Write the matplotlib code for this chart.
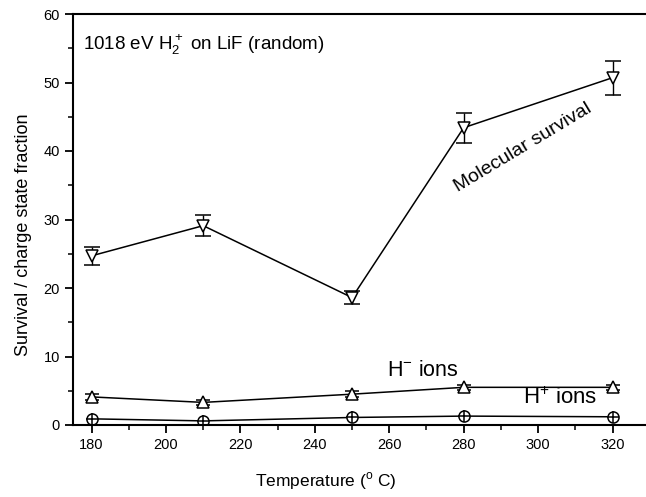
import matplotlib

matplotlib.use("Agg")
import matplotlib.pyplot as plt
from matplotlib.ticker import MultipleLocator

plt.rcParams["font.family"] = ["Liberation Sans", "DejaVu Sans"]
plt.rcParams["mathtext.fontset"] = "custom"
plt.rcParams["mathtext.rm"] = "Liberation Sans"

# data
temperature = [180, 210, 250, 280, 320]
molecular = [24.7, 29.1, 18.6, 43.4, 50.7]
molecular_err = [1.3, 1.5, 0.9, 2.2, 2.5]
h_minus = [4.1, 3.3, 4.5, 5.5, 5.5]
h_minus_err = [0.4, 0.4, 0.4, 0.4, 0.4]
h_plus = [0.9, 0.6, 1.1, 1.3, 1.2]
h_plus_err = [0.3, 0.3, 0.3, 0.3, 0.3]

INK = "black"

fig = plt.figure(figsize=(6.46, 4.97), dpi=100)
ax = fig.add_axes([73 / 646, 1 - 425 / 497, 1 - 73 / 646, (425 - 14) / 497])

ax.errorbar(temperature, molecular, yerr=molecular_err, color=INK, lw=1.1,
            marker="v", ms=9, mfc="white", mec=INK, mew=1.1,
            capsize=6, capthick=1.1, elinewidth=1.0)
ax.errorbar(temperature, h_minus, yerr=h_minus_err, color=INK, lw=1.1,
            marker="^", ms=8, mfc="white", mec=INK, mew=1.1,
            capsize=5, capthick=1.1, elinewidth=1.0)
ax.errorbar(temperature, h_plus, yerr=h_plus_err, color=INK, lw=1.1,
            marker="o", ms=8, mfc="white", mec=INK, mew=1.1,
            capsize=0, elinewidth=1.0)
ax.plot(temperature, h_plus, ls="none", marker="+", ms=9, color=INK,
        mec=INK, mew=1.1, zorder=6)

ax.set_xlim(175, 329)
ax.set_ylim(0, 60)
ax.xaxis.set_major_locator(MultipleLocator(20))
ax.xaxis.set_minor_locator(MultipleLocator(10))
ax.yaxis.set_major_locator(MultipleLocator(10))
ax.yaxis.set_minor_locator(MultipleLocator(5))
ax.tick_params(which="major", direction="out", length=6, width=1.3, labelsize=10.5)
ax.tick_params(which="minor", direction="out", length=3.5, width=1.1)
for side in ("left", "bottom", "top"):
    ax.spines[side].set_linewidth(1.5)
ax.spines["right"].set_visible(False)

ax.set_xlabel("Temperature ($^{\\rm o}$ C)", fontsize=12.5)
ax.xaxis.set_label_coords((326 - 73) / 573, -0.11)
ax.set_ylabel("Survival / charge state fraction", fontsize=13)
ax.yaxis.set_label_coords(-0.072, 0.462)

ax.text(0.018, 0.925, "1018 eV H$_2^+$ on LiF (random)", transform=ax.transAxes,
        ha="left", va="center", fontsize=13.5)
ax.text(296, 40.5, "Molecular survival", rotation=31, ha="center", va="center",
        fontsize=14, rotation_mode="anchor")
ax.text(269, 8.0, "H$^{-}$ ions", ha="center", va="center", fontsize=15.5)
ax.text(306, 3.9, "H$^{+}$ ions", ha="center", va="center", fontsize=16)

fig.savefig("out.png", dpi=100, facecolor="white")
